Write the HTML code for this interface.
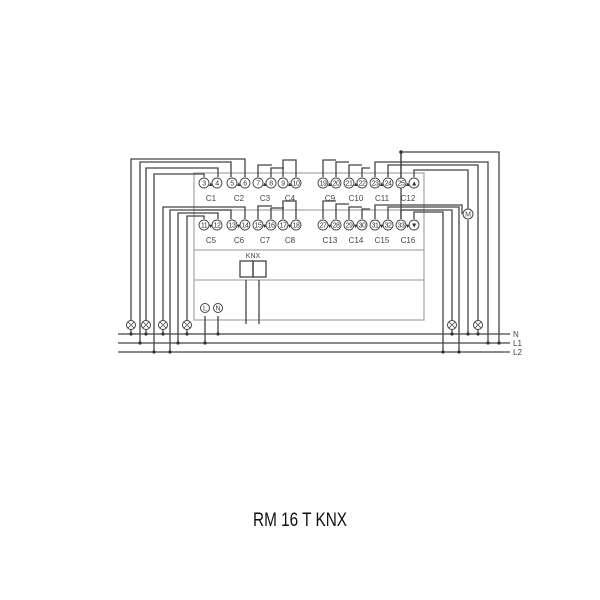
<!DOCTYPE html><html><head><style>body{margin:0;background:#fff}svg{display:block}</style></head><body>
<svg width="600" height="600" viewBox="0 0 600 600" font-family="Liberation Sans, sans-serif">
<g stroke="#444" stroke-width="1.3" fill="none">
<rect x="194" y="173" width="230" height="147" stroke="#aaa"/>
<line x1="194" y1="210" x2="424" y2="210" stroke="#aaa"/>
<line x1="194" y1="250" x2="424" y2="250" stroke="#aaa"/>
<line x1="194" y1="280" x2="424" y2="280" stroke="#aaa"/>
<rect x="240" y="261" width="13" height="16"/><rect x="253" y="261" width="13" height="16"/>
<line x1="246" y1="280" x2="246" y2="324"/><line x1="259" y1="280" x2="259" y2="324"/>
<line x1="118" y1="334" x2="510" y2="334"/><line x1="118" y1="343" x2="510" y2="343"/><line x1="118" y1="352" x2="510" y2="352"/>
<polyline points="131,334 131,159 245,159 245,177"/>
<polyline points="140,343 140,162 231,162 231,177"/>
<polyline points="146,334 146,168 218,168 218,177"/>
<polyline points="154,352 154,174 204,174 204,177"/>
<polyline points="163,334 163,207 245,207 245,219"/>
<polyline points="170,352 170,210 231,210 231,219"/>
<polyline points="178,343 178,213 218,213 218,219"/>
<polyline points="187,334 187,216 204,216 204,219"/>
<line x1="205" y1="316" x2="205" y2="343"/><line x1="218" y1="316" x2="218" y2="334"/>
<polyline points="258,177 258,165 272,165"/><polyline points="271,177 271,168 284,168"/>
<polyline points="283,177 283,160 296,160 296,177"/>
<polyline points="258,219 258,206 272,206"/><polyline points="271,219 271,208 284,208"/>
<polyline points="283,219 283,201 296,201 296,219"/>
<polyline points="323,177 323,160 336,160"/><polyline points="336,177 336,162 349,162"/>
<polyline points="349,177 349,165 362,165"/><polyline points="362,177 362,168 370,168"/>
<polyline points="323,219 323,201 336,201"/><polyline points="336,219 336,204 349,204"/>
<polyline points="349,219 349,207 362,207"/><polyline points="362,219 362,209 370,209"/>
<polyline points="401,177 401,152 499,152 499,343"/>
<polyline points="375,177 375,162 488,162 488,343"/>
<polyline points="388,177 388,165 478,165 478,334"/>
<polyline points="414,177 414,170 468,170 468,214"/>
<line x1="468" y1="220" x2="468" y2="334"/>
<line x1="401" y1="152" x2="401" y2="219"/>
<polyline points="375,219 375,205 462,205 462,214"/>
<polyline points="388,219 388,207 459,207 459,352"/>
<polyline points="401,219 401,210 452,210 452,334"/>
<polyline points="414,219 414,212 443,212 443,352"/>
</g>
<g fill="#333">
<circle cx="131" cy="334" r="1.6"/><circle cx="140" cy="343" r="1.6"/><circle cx="146" cy="334" r="1.6"/><circle cx="154" cy="352" r="1.6"/><circle cx="163" cy="334" r="1.6"/><circle cx="170" cy="352" r="1.6"/><circle cx="178" cy="343" r="1.6"/><circle cx="187" cy="334" r="1.6"/><circle cx="205" cy="343" r="1.6"/><circle cx="218" cy="334" r="1.6"/><circle cx="443" cy="352" r="1.6"/><circle cx="452" cy="334" r="1.6"/><circle cx="459" cy="352" r="1.6"/><circle cx="468" cy="334" r="1.6"/><circle cx="478" cy="334" r="1.6"/><circle cx="488" cy="343" r="1.6"/><circle cx="499" cy="343" r="1.6"/><circle cx="401" cy="152" r="1.8"/>
</g>
<g stroke="#444" stroke-width="1" fill="#fff">
<circle cx="131" cy="325" r="4.5"/><circle cx="146" cy="325" r="4.5"/><circle cx="163" cy="325" r="4.5"/><circle cx="187" cy="325" r="4.5"/><circle cx="452" cy="325" r="4.5"/><circle cx="478" cy="325" r="4.5"/>
<circle cx="205" cy="308" r="4.5"/><circle cx="218" cy="308" r="4.5"/>
<circle cx="468" cy="214" r="5"/>
</g>
<g stroke="#444" stroke-width="0.8">
<path d="M128 322l6 6M134 322l-6 6M143 322l6 6M149 322l-6 6M160 322l6 6M166 322l-6 6M184 322l6 6M190 322l-6 6M449 322l6 6M455 322l-6 6M475 322l6 6M481 322l-6 6"/>
</g>
<g font-size="7" text-anchor="middle" fill="#444">
<text x="205" y="310.5">L</text><text x="218" y="310.5">N</text><text x="468" y="216.5">M</text>
<text x="253" y="258">KNX</text>
</g>
<g stroke="#444" stroke-width="0.9" fill="#fff">
<circle cx="204" cy="183" r="5"/><circle cx="217" cy="183" r="5"/><circle cx="232" cy="183" r="5"/><circle cx="245" cy="183" r="5"/><circle cx="258" cy="183" r="5"/><circle cx="271" cy="183" r="5"/><circle cx="283" cy="183" r="5"/><circle cx="296" cy="183" r="5"/>
<circle cx="323" cy="183" r="5"/><circle cx="336" cy="183" r="5"/><circle cx="349" cy="183" r="5"/><circle cx="362" cy="183" r="5"/><circle cx="375" cy="183" r="5"/><circle cx="388" cy="183" r="5"/><circle cx="401" cy="183" r="5"/><circle cx="414" cy="183" r="5"/>
<circle cx="204" cy="225" r="5"/><circle cx="217" cy="225" r="5"/><circle cx="232" cy="225" r="5"/><circle cx="245" cy="225" r="5"/><circle cx="258" cy="225" r="5"/><circle cx="271" cy="225" r="5"/><circle cx="283" cy="225" r="5"/><circle cx="296" cy="225" r="5"/>
<circle cx="323" cy="225" r="5"/><circle cx="336" cy="225" r="5"/><circle cx="349" cy="225" r="5"/><circle cx="362" cy="225" r="5"/><circle cx="375" cy="225" r="5"/><circle cx="388" cy="225" r="5"/><circle cx="401" cy="225" r="5"/><circle cx="414" cy="225" r="5"/>
</g>
<g font-size="7" text-anchor="middle" fill="#333" letter-spacing="-0.5">
<text x="204" y="185.5">3</text><text x="217" y="185.5">4</text><text x="232" y="185.5">5</text><text x="245" y="185.5">6</text><text x="258" y="185.5">7</text><text x="271" y="185.5">8</text><text x="283" y="185.5">9</text><text x="296" y="185.5">10</text>
<text x="323" y="185.5">19</text><text x="336" y="185.5">20</text><text x="349" y="185.5">21</text><text x="362" y="185.5">22</text><text x="375" y="185.5">23</text><text x="388" y="185.5">24</text><text x="401" y="185.5">25</text><text x="414" y="185.5">▲</text>
<text x="204" y="227.5">11</text><text x="217" y="227.5">12</text><text x="232" y="227.5">13</text><text x="245" y="227.5">14</text><text x="258" y="227.5">15</text><text x="271" y="227.5">16</text><text x="283" y="227.5">17</text><text x="296" y="227.5">18</text>
<text x="323" y="227.5">27</text><text x="336" y="227.5">28</text><text x="349" y="227.5">29</text><text x="362" y="227.5">30</text><text x="375" y="227.5">31</text><text x="388" y="227.5">32</text><text x="401" y="227.5">33</text><text x="414" y="227.5">▼</text>
<text x="210.5" y="186" font-size="6">▲</text><text x="238.5" y="186" font-size="6">▲</text><text x="264.5" y="186" font-size="6">▲</text><text x="289.5" y="186" font-size="6">▲</text><text x="329.5" y="186" font-size="6">▲</text><text x="355.5" y="186" font-size="6">▲</text><text x="381.5" y="186" font-size="6">▲</text><text x="407.5" y="186" font-size="6">▲</text>
<text x="210.5" y="228" font-size="6">▼</text><text x="238.5" y="228" font-size="6">▼</text><text x="264.5" y="228" font-size="6">▼</text><text x="289.5" y="228" font-size="6">▼</text><text x="329.5" y="228" font-size="6">▼</text><text x="355.5" y="228" font-size="6">▼</text><text x="381.5" y="228" font-size="6">▼</text><text x="407.5" y="228" font-size="6">▼</text>
</g>
<g font-size="8" text-anchor="middle" fill="#444">
<text x="211" y="201">C1</text><text x="239" y="201">C2</text><text x="265" y="201">C3</text><text x="290" y="201">C4</text><text x="330" y="201">C9</text><text x="356" y="201">C10</text><text x="382" y="201">C11</text><text x="408" y="201">C12</text>
<text x="211" y="243">C5</text><text x="239" y="243">C6</text><text x="265" y="243">C7</text><text x="290" y="243">C8</text><text x="330" y="243">C13</text><text x="356" y="243">C14</text><text x="382" y="243">C15</text><text x="408" y="243">C16</text>
</g>
<g font-size="8" fill="#444"><text x="513" y="337">N</text><text x="513" y="346">L1</text><text x="513" y="355">L2</text></g>
<text x="253" y="526" font-size="19" textLength="94" lengthAdjust="spacingAndGlyphs" fill="#111">RM 16 T KNX</text>
</svg>
</body></html>
